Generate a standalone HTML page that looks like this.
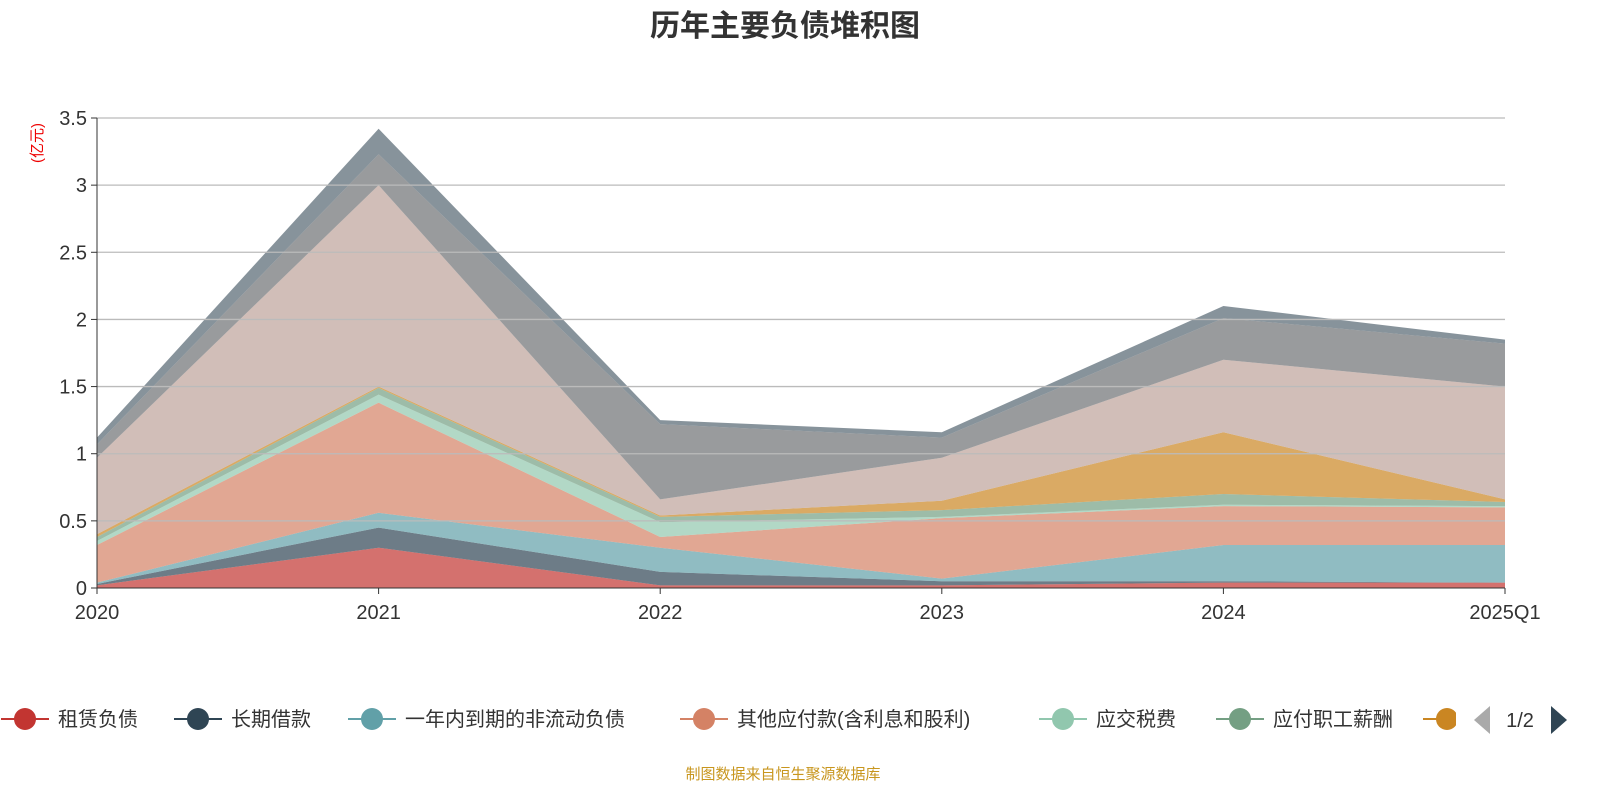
<!DOCTYPE html>
<html><head><meta charset="utf-8"><style>
body{margin:0;background:#fff;width:1600px;height:800px;overflow:hidden;font-family:"Liberation Sans","Noto Sans CJK SC",sans-serif;}
svg{display:block}
</style></head><body>
<svg id="chart" width="1600" height="800" xmlns="http://www.w3.org/2000/svg">
<text x="785" y="36" text-anchor="middle" font-size="30" font-weight="bold" fill="#333" font-family="Liberation Sans, Noto Sans CJK SC, sans-serif">历年主要负债堆积图</text>
<text transform="translate(42,143) rotate(-90)" text-anchor="middle" font-size="15" fill="#e00" font-family="Liberation Sans, Noto Sans CJK SC, sans-serif">(亿元)</text>
<g id="areas"></g><g id="grid"></g><g id="axes"></g><g id="legend"></g>
<text x="783" y="779" text-anchor="middle" font-size="15" fill="#c8961e" font-family="Liberation Sans, Noto Sans CJK SC, sans-serif">制图数据来自恒生聚源数据库</text>
</svg>
<script>
const categories=["2020","2021","2022","2023","2024","2025Q1"];
const seriesNames=["租赁负债","长期借款","一年内到期的非流动负债","其他应付款(含利息和股利)","应交税费","应付职工薪酬","应付账款","series-8","series-9","series-10"];
const s1=[0.02,0.30,0.02,0.02,0.04,0.04];
const s2=[0.01,0.15,0.10,0.03,0.01,0.00];
const s3=[0.01,0.11,0.18,0.02,0.27,0.28];
const s4=[0.28,0.82,0.08,0.45,0.29,0.28];
const s5=[0.03,0.06,0.11,0.01,0.01,0.01];
const s6=[0.03,0.05,0.04,0.05,0.08,0.03];
const s7=[0.02,0.01,0.01,0.07,0.46,0.02];
const s8=[0.57,1.50,0.12,0.32,0.54,0.84];
const s9=[0.10,0.23,0.56,0.15,0.31,0.32];
const s10=[0.05,0.19,0.03,0.04,0.09,0.03];
const yTicks=[0,0.5,1,1.5,2,2.5,3,3.5];
const yTickLabels=["0","0.5","1","1.5","2","2.5","3","3.5"];
const allSeries=[s1,s2,s3,s4,s5,s6,s7,s8,s9,s10];
const colors=["#c23531","#2f4554","#61a0a8","#d48265","#91c7ae","#749f83","#ca8622","#bda29a","#6e7074","#546570"];
const NS="http://www.w3.org/2000/svg";
const X0=97,X1=1505,Y0=588,Y1=118,YMAX=3.5;
function xs(i){return X0+(X1-X0)*i/(categories.length-1);}
function ys(v){return Y0-(Y0-Y1)*v/YMAX;}
function mk(t,a,p){const e=document.createElementNS(NS,t);for(const k in a)e.setAttribute(k,a[k]);p.appendChild(e);return e;}
const areas=document.getElementById('areas');
let base=categories.map(()=>0);
allSeries.forEach((s,k)=>{
  const top=base.map((b,i)=>b+s[i]);
  let d="M"+categories.map((c,i)=>xs(i)+","+ys(top[i])).join("L");
  for(let i=categories.length-1;i>=0;i--)d+="L"+xs(i)+","+ys(base[i]);
  d+="Z";
  const p=mk('path',{d:d,fill:colors[k],'fill-opacity':0.7},areas);
  
  
  base=top;
});
const grid=document.getElementById('grid'),axes=document.getElementById('axes');
yTicks.forEach((v,i)=>{
  if(v>0){const l=mk('line',{x1:X0,x2:X1,y1:ys(v),y2:ys(v),stroke:'#bbb','stroke-width':1.3},grid);
  }
  const t=mk('line',{x1:X0-6,x2:X0,y1:ys(v),y2:ys(v),stroke:'#333'},axes);
  
  const tx=mk('text',{x:X0-10,y:ys(v)+7,'text-anchor':'end','font-size':20,fill:'#333'},axes);
  tx.textContent=yTickLabels[i];
  
});
let a=mk('line',{x1:X0,x2:X0,y1:Y1,y2:Y0,stroke:'#333'},axes);

a=mk('line',{x1:X0,x2:X1,y1:Y0,y2:Y0,stroke:'#333'},axes);

categories.forEach((c,i)=>{
  const t=mk('line',{x1:xs(i),x2:xs(i),y1:Y0,y2:Y0+6,stroke:'#333'},axes);
  
  const tx=mk('text',{x:xs(i),y:Y0+31,'text-anchor':'middle','font-size':20,fill:'#333'},axes);
  tx.textContent=c;
  
});
const lg=document.getElementById('legend');
const legPos=[25,198,372,704,1063,1240,1447];
legPos.forEach((cx,k)=>{
  const g=mk('g',{},lg);
  
  
  mk('line',{x1:cx-24,x2:cx+24,y1:719,y2:719,stroke:colors[k],'stroke-width':2},g);
  mk('circle',{cx:cx,cy:719,r:11,fill:colors[k]},g);
  if(k<6){const t=mk('text',{x:cx+33,y:726,'font-size':20,fill:'#333'},g);t.textContent=seriesNames[k];}
});
mk('rect',{x:1456,y:700,width:26,height:40,fill:'#fff'},lg);
const pl=mk('path',{d:'M1490,706L1474,720L1490,734Z',fill:'#aaa'},lg);

const pt=mk('text',{x:1520,y:727,'text-anchor':'middle','font-size':20,fill:'#333'},lg);pt.textContent='1/2';

const pr=mk('path',{d:'M1551,706L1567,720L1551,734Z',fill:'#2f4554'},lg);

</script>
</body></html>
